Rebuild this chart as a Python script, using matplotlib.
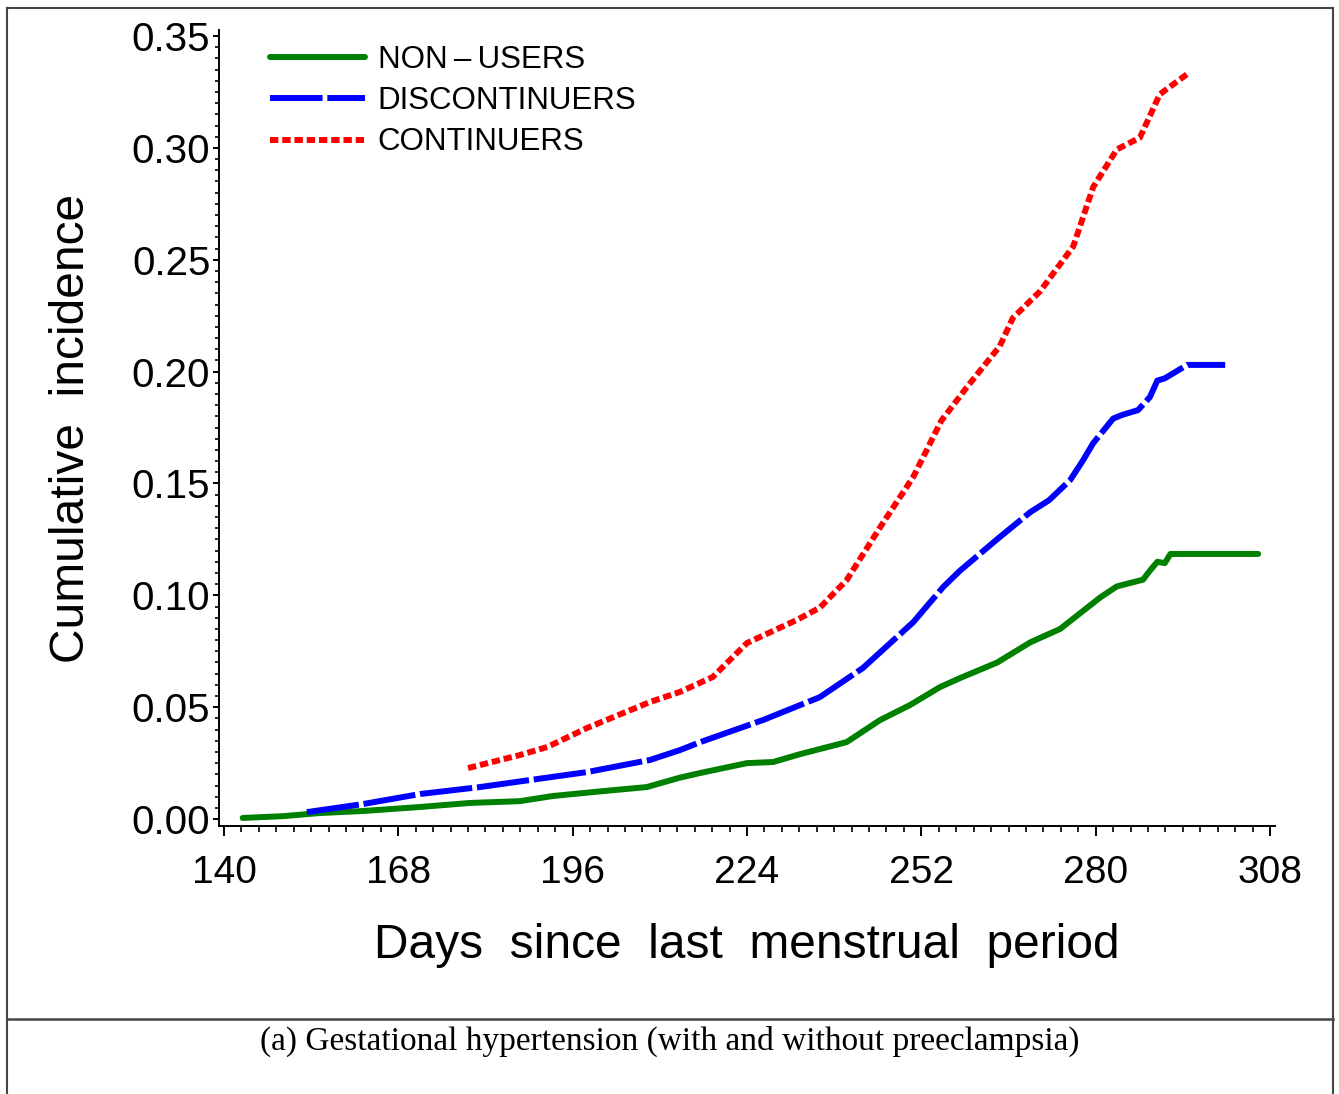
import matplotlib
matplotlib.use('Agg')
from matplotlib import pyplot as plt
from matplotlib.lines import Line2D
from matplotlib.ticker import MultipleLocator

# cumulative incidence curves
days_non = [143, 149.5, 155.4, 162.3, 171.5, 179.5, 187.5, 192.8, 200.9, 207.9, 213.2, 216.5,
            224, 228.2, 232.5, 240, 245.4, 250.2, 255, 258.2, 264.2, 269.5, 274.3, 277.5,
            280.7, 283.4, 287.6, 288.7, 289.9, 291.1, 292, 306.1]
inc_non = [0.0005, 0.0013, 0.0027, 0.0036, 0.0054, 0.0072, 0.008, 0.0103, 0.0125, 0.0143, 0.0185, 0.0206,
           0.025, 0.0255, 0.029, 0.0344, 0.0443, 0.051, 0.059, 0.063, 0.070, 0.079, 0.085, 0.092,
           0.099, 0.104, 0.107, 0.111, 0.115, 0.1144, 0.1185, 0.1185]

days_dis = [153.3, 162.3, 171.5, 181.1, 190.3, 198.3, 208.4, 213.2, 216.5, 226.6, 235.7, 242.6,
            250.7, 255.5, 258.2, 264.4, 269.5, 272.5, 275.9, 278, 279.6, 282.8, 284.2, 286.8,
            288.7, 289.9, 291.1, 294.7, 300.8]
inc_dis = [0.0031, 0.0067, 0.0112, 0.0143, 0.0179, 0.021, 0.0264, 0.0308, 0.0344, 0.0443, 0.0545, 0.0675,
           0.088, 0.1037, 0.111, 0.1256, 0.1372, 0.1425, 0.1515, 0.1605, 0.168, 0.179, 0.1806, 0.1828,
           0.1886, 0.196, 0.197, 0.203, 0.203]

days_con = [179.2, 187.5, 191.9, 198.3, 208.4, 213.2, 218.5, 224, 232, 235.7, 240, 245.4,
            250.7, 255.2, 259.3, 264.6, 266.7, 271.1, 276.4, 279.6, 283.4, 287.1, 290.3, 294.7]
inc_con = [0.0228, 0.0286, 0.0322, 0.0407, 0.0523, 0.0568, 0.0635, 0.0787, 0.089, 0.0945, 0.1068, 0.1305,
           0.1529, 0.178, 0.193, 0.2114, 0.224, 0.236, 0.256, 0.2825, 0.2993, 0.3046, 0.324, 0.333]

labels = ['NON\u2009\u2013\u2009USERS', 'DISCONTINUERS', 'CONTINUERS']
xticks = [140, 168, 196, 224, 252, 280, 308]

plt.rcParams['font.family'] = ['Liberation Sans', 'DejaVu Sans']

W, H = 1339, 1094
fig = plt.figure(figsize=(W / 100, H / 100), dpi=100)
ax = fig.add_axes([219 / W, 1 - 826 / H, (1275 - 219) / W, (826 - 30) / H])

lw = 4.3
ax.plot(days_non, inc_non, color='#008000', lw=lw, label=labels[0], solid_capstyle='round')
ax.plot(days_dis, inc_dis, color='#0000ff', lw=lw, label=labels[1], dashes=(8.8, 0.8))
ax.plot(days_con, inc_con, color='#ff0000', lw=lw, label=labels[2], dashes=(1.4, 0.65))

ax.set_xlim(139.2, 308.8)
ax.set_ylim(-0.0031, 0.3527)
ax.set_xticks(xticks)
ax.xaxis.set_minor_locator(MultipleLocator(2.8))
ax.yaxis.set_major_locator(MultipleLocator(0.05))
ax.yaxis.set_minor_locator(MultipleLocator(0.005))
ax.yaxis.set_major_formatter(matplotlib.ticker.FormatStrFormatter('%.2f'))

for s in ['top', 'right']:
    ax.spines[s].set_visible(False)
for s in ['left', 'bottom']:
    ax.spines[s].set_linewidth(1.4)

ax.tick_params(axis='x', which='major', length=7, width=1.4, labelsize=28, pad=14)
ax.tick_params(axis='x', which='minor', length=4.3, width=1.2)
ax.tick_params(axis='y', which='major', length=4.3, width=1.4, labelsize=29, pad=2)
ax.tick_params(axis='y', which='minor', length=3, width=1.2)

ax.set_xlabel('Days  since  last  menstrual  period', fontsize=34.5, labelpad=23)
ax.set_ylabel('Cumulative  incidence', fontsize=34.5, labelpad=27)

ax.legend(loc='upper left', bbox_to_anchor=((270 - 219) / 1056, (826 - 45) / 796),
          frameon=False, fontsize=22.5, handlelength=3.05, handletextpad=0.4,
          labelspacing=0.36, borderpad=0, borderaxespad=0)

# frame around the panel and caption
edge = '#444444'
fig.add_artist(Line2D([7 / W, 7 / W], [0, 1 - 8 / H], color=edge, lw=1.5))
fig.add_artist(Line2D([1333 / W, 1333 / W], [0, 1 - 8 / H], color=edge, lw=1.5))
fig.add_artist(Line2D([7 / W, 1333 / W], [1 - 8 / H, 1 - 8 / H], color=edge, lw=1.5))
fig.add_artist(Line2D([7 / W, 1333 / W], [1 - 1019 / H, 1 - 1019 / H], color=edge, lw=1.8))
fig.text(0.5, 1 - 1041 / H, '(a) Gestational hypertension (with and without preeclampsia)',
         ha='center', va='center', family='Liberation Serif', fontsize=24)

fig.savefig('out.png', dpi=100)
